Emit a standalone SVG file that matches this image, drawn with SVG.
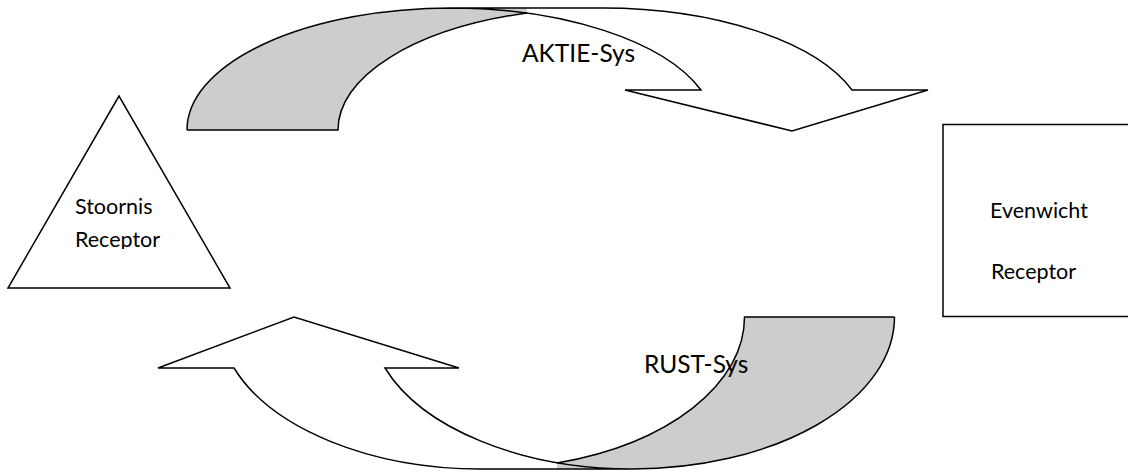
<svg xmlns="http://www.w3.org/2000/svg" width="1128" height="475" viewBox="0 0 1128 475">
<style>
.ln{fill:none;stroke:#000;stroke-width:1.5;stroke-linejoin:miter}
.gray{fill:#cdcdcd;stroke:none}
.wht{fill:#fff;stroke:none}
.t{font-family:Lato,"Open Sans",sans-serif;fill:#000}
.s{font-size:21.5px}
.b{font-size:24.5px}
</style>
<defs>
<clipPath id="triClip"><rect x="0" y="0" width="240" height="249"/></clipPath>
</defs>
<rect width="1128" height="475" fill="#fff"/>
<g id="connectors">
<g id="aktie-arrow">
<path class="gray" d="M187,130 A264.5,122 0 0,1 451.5,8 L527,8 L527,13 A264.5,122 0 0,0 338,130 Z"/>
<path class="wht" d="M527,8 L602.5,8 A264.5,122 0 0,1 852,90 L928,90 L792,131 L625,90 L701,90 A264.5,122 0 0,0 527,13 Z"/>
<path class="ln" d="M187,130 A264.5,122 0 0,1 451.5,8 L602.5,8 A264.5,122 0 0,1 852,90 L928,90 L792,131 L625,90 L701,90 A264.5,122 0 0,0 451.5,8"/>
<path class="ln" d="M187,130 L338,130 A264.5,122 0 0,1 527,13"/>
</g>
<g id="rust-arrow">
<path class="gray" d="M894.5,317 A262.5,152 0 0,1 632,469 L557,469 L557,463 A262.5,152 0 0,0 744.5,317 Z"/>
<path class="wht" d="M557,469 L482,469 A262.5,152 0 0,1 234,368 L158,368 L294,317 L459,368 L385,368 A262.5,152 0 0,0 557,463 Z"/>
<path class="ln" d="M894.5,317 A262.5,152 0 0,1 632,469 L482,469 A262.5,152 0 0,1 234,368 L158,368 L294,317 L459,368 L385,368 A262.5,152 0 0,0 632,469"/>
<path class="ln" d="M894.5,317 L744.5,317 A262.5,152 0 0,1 557,463"/>
</g>
</g>
<g id="stoornis">
<polygon class="ln" points="119,96 8,288 230,288"/>
<g clip-path="url(#triClip)">
<text class="t s" x="75" y="214">Stoornis</text>
<text class="t s" x="75" y="247">Receptor</text>
</g>
</g>
<g id="evenwicht">
<rect class="ln" x="943" y="124.5" width="200" height="192"/>
<text class="t s" x="990" y="218">Evenwicht</text>
<text class="t s" x="991" y="279">Receptor</text>
</g>
<g id="labels">
<text class="t b" x="522" y="62">AKTIE-Sys</text>
<text class="t b" x="644" y="373">RUST-Sys</text>
</g>
</svg>
